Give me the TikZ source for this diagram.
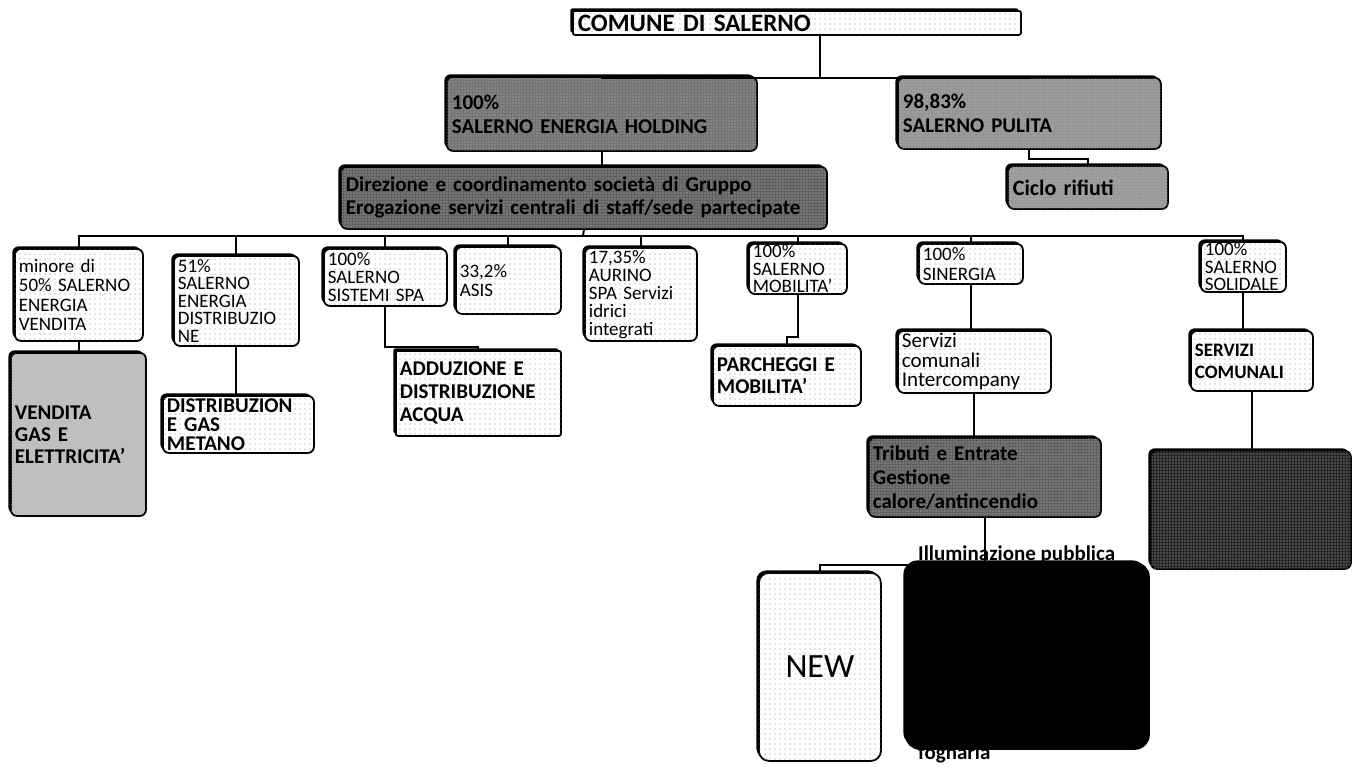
\documentclass[tikz,border=0pt]{standalone}
\usepackage{fontspec}
\setmainfont{Carlito}
\usetikzlibrary{positioning,shadows,patterns.meta}

\begin{document}
\begin{tikzpicture}[x=1pt, y=-1pt,
    box/.style={draw, line width=1.8pt, rounded corners=6pt, anchor=north west, align=left,
      inner xsep=4pt, inner ysep=1pt, font=\fontsize{19}{19.5}\selectfont,
      drop shadow={shadow xshift=-2.5pt, shadow yshift=2.5pt, fill=black, opacity=1}},
    lightbox/.style={box, fill=white, postaction={pattern={Dots[distance=5pt, radius=0.55pt]}, pattern color=black!45}},
    greybox/.style={box, fill=black!#1, postaction={pattern={Dots[distance=3pt, radius=0.6pt]}, pattern color=white!75!black}},
    link/.style={line width=2pt}]

    \useasboundingbox (0,0) rectangle (1366,769);

    \node (comune) [lightbox, rounded corners=2pt, minimum width=448pt, minimum height=24pt, text width=438pt, inner ysep=0pt, font=\fontsize{25}{25}\selectfont\bfseries] at (572,10) {COMUNE DI SALERNO};

    \node (holding) [greybox=55, minimum width=310pt, minimum height=74pt, text width=300pt, font=\fontsize{21}{24}\selectfont\bfseries] at (446,76) {100\%\\SALERNO ENERGIA HOLDING};
    \node (pulita) [greybox=42, minimum width=263pt, minimum height=71pt, text width=253pt, font=\fontsize{21}{24}\selectfont\bfseries] at (897,77) {98,83\%\\SALERNO PULITA};
    \node (ciclo) [greybox=40, minimum width=160pt, minimum height=43pt, text width=150pt, font=\fontsize{22}{22}\selectfont\bfseries] at (1007,165) {Ciclo rifiuti};
    \node (direz) [greybox=62, minimum width=486pt, minimum height=62pt, text width=476pt, font=\fontsize{21}{23}\selectfont\bfseries] at (340,166) {Direzione e coordinamento società di Gruppo\\Erogazione servizi centrali di staff/sede partecipate};

    \node (minore) [lightbox, minimum width=128pt, minimum height=92pt, text width=120pt] at (14,248) {minore di\\50\% SALERNO\\ENERGIA\\VENDITA};
    \node (sed) [lightbox, minimum width=125pt, minimum height=90pt, text width=117pt, font=\fontsize{19}{17.5}\selectfont] at (173,255) {51\%\\SALERNO\\ENERGIA\\DISTRIBUZIO\\NE};
    \node (sistemi) [lightbox, minimum width=123pt, minimum height=57pt, text width=115pt, font=\fontsize{19}{18}\selectfont] at (323,248) {100\%\\SALERNO\\SISTEMI SPA};
    \node (asis) [lightbox, minimum width=105pt, minimum height=67pt, text width=97pt] at (455,246) {33,2\%\\ASIS};
    \node (aurino) [lightbox, minimum width=112pt, minimum height=93pt, text width=104pt, font=\fontsize{19}{18}\selectfont] at (584,247) {17,35\%\\AURINO\\SPA Servizi\\idrici\\integrati};
    \node (mobil) [lightbox, minimum width=98pt, minimum height=50pt, text width=90pt, font=\fontsize{19}{17.5}\selectfont] at (748,243) {100\%\\SALERNO\\MOBILITA'};
    \node (sin) [lightbox, minimum width=104pt, minimum height=40pt, text width=96pt] at (918,243) {100\%\\SINERGIA};
    \node (solid) [lightbox, minimum width=85pt, minimum height=47pt, text width=77pt, font=\fontsize{19}{17.5}\selectfont] at (1200,241) {100\%\\SALERNO\\SOLIDALE};

    \node (vendita) [greybox=25, minimum width=135pt, minimum height=163pt, text width=127pt, font=\fontsize{21}{22}\selectfont\bfseries] at (10,352) {VENDITA\\GAS E\\ELETTRICITA'};
    \node (distgas) [lightbox, minimum width=151pt, minimum height=57pt, text width=143pt, font=\fontsize{21}{19}\selectfont\bfseries] at (162,395) {DISTRIBUZION\\E GAS\\METANO};
    \node (addu) [lightbox, rounded corners=2pt, minimum width=165pt, minimum height=85pt, text width=157pt, font=\fontsize{21}{23}\selectfont\bfseries] at (395,350) {ADDUZIONE E\\DISTRIBUZIONE\\ACQUA};
    \node (parch) [lightbox, minimum width=148pt, minimum height=60pt, text width=140pt, font=\fontsize{21}{22}\selectfont\bfseries] at (712,345) {PARCHEGGI E\\MOBILITA'};
    \node (interco) [lightbox, minimum width=153pt, minimum height=62pt, text width=145pt, font=\fontsize{21}{19.5}\selectfont] at (897,330) {Servizi\\comunali\\Intercompany};
    \node (servcom) [lightbox, minimum width=122pt, minimum height=60pt, text width=114pt, font=\fontsize{19}{22}\selectfont\bfseries] at (1190,330) {SERVIZI\\COMUNALI};

    \node (tributi) [greybox=62, minimum width=232pt, minimum height=79pt, text width=224pt, font=\fontsize{21}{24}\selectfont\bfseries] at (868,437) {Tributi e Entrate\\Gestione\\calore/antincendio};
    \node (sociali) [greybox=85, minimum width=200pt, minimum height=118pt, text width=192pt] at (1150,450) {};

    \node (new) [lightbox, rounded corners=10pt, minimum width=122pt, minimum height=188pt, text width=114pt, align=center, font=\fontsize{34}{36}\selectfont] at (758,572) {NEW};
    \node (lampade) [box, fill=black, rounded corners=14pt, minimum width=243pt, minimum height=186pt, text width=235pt] at (905,562) {};
    \node (illum) [anchor=north west, inner sep=0pt, font=\fontsize{21}{21}\selectfont\bfseries] at (918,546) {Illuminazione pubblica};
    \node (fogn) [anchor=north west, inner sep=0pt, font=\fontsize{21}{21}\selectfont\bfseries] at (918,745) {fognaria};

    \coordinate (top) at (820,78);
    \coordinate (bus) at (583,236);

    \draw[link] (comune.south -| top) -- (top);
    \draw[link] (holding.north) |- (top) -| (pulita.north);
    \draw[link] (holding.south) -- (holding.south |- direz.north);
    \draw[link] (pulita.south) -- ++(0,9) -| (ciclo.north);

    \draw[link] (direz.south) -- (bus);
    \draw[link] (minore.north) |- (bus) -| (solid.north);
    \foreach \n in {sed,sistemi,asis,aurino,mobil,sin}
        \draw[link] (\n.north) -- (\n.north |- bus);

    \draw[link] (minore.south) -- (minore.south |- vendita.north);
    \draw[link] (sed.south) -- (sed.south |- distgas.north);
    \draw[link] (sistemi.south) -- ++(0,40) -| (addu.north);
    \draw[link] (mobil.south) -- ++(0,42) -| (parch.north);
    \draw[link] (sin.south) -- (sin.south |- interco.north);
    \draw[link] (solid.south) -- (solid.south |- servcom.north);
    \draw[link] (interco.south) -- (interco.south |- tributi.north);
    \draw[link] (servcom.south) -- (servcom.south |- sociali.north);
    \draw[link] (tributi.south) -- ++(0,47) -| (new.north);
\end{tikzpicture}
\end{document}
